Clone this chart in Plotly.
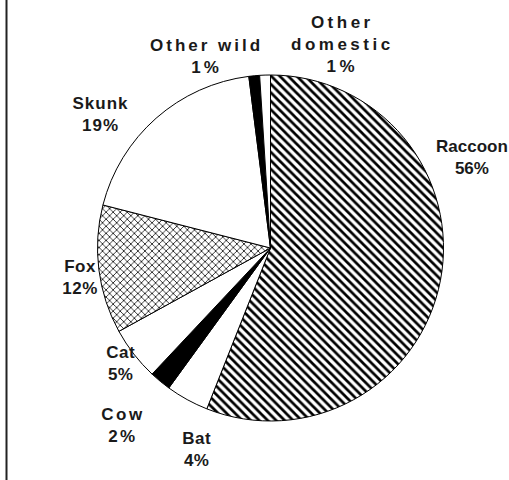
import json
import plotly.graph_objects as go

# Rabies cases by animal type (share of total, %)
animals = ["Raccoon", "Bat", "Cow", "Cat", "Fox", "Skunk", "Other wild", "Other domestic"]
shares = [56, 4, 2, 5, 12, 19, 1, 1]

# Display names for the outside labels
label_text = ["Raccoon", "Bat", "Cow", "Cat", "Fox", "Skunk", "Other wild", "Other<br>domestic"]

# Slice fills
fill_colors = ["white", "white", "black", "white", "white", "white", "black", "white"]
pattern_shapes = ["\\", "", "", "", "x", "", "", ""]

# Label anchor positions in pixels (x, y from top) and letter spacing (px)
label_px = [(472, 158), (197, 449), (123, 425), (121, 363), (80, 277),
            (101, 114), (206, 56), (342, 44)]
label_spacing = [0, 0.5, 2.5, 0.5, 0.5, 1, 3, 3.5]

W, H = 509, 480

fig = go.Figure(go.Pie(
    labels=animals,
    values=shares,
    sort=False,
    direction="clockwise",
    rotation=0,
    textinfo="none",
    hoverinfo="label+percent",
    marker=dict(
        colors=fill_colors,
        line=dict(color="black", width=1),
        pattern=dict(
            shape=pattern_shapes,
            fgcolor="black",
            bgcolor=fill_colors,
            size=[6, 6, 6, 6, 5, 6, 6, 6],
            solidity=[0.45, 0.3, 0.3, 0.3, 0.28, 0.3, 0.3, 0.3],
        ),
    ),
    domain=dict(x=[97.5 / W, 443.5 / W], y=[(H - 421) / H, (H - 75) / H]),
    showlegend=False,
))

total = sum(shares)
annotations = []
for name, val, (px, py) in zip(label_text, shares, label_px):
    annotations.append(dict(
        x=px / W, y=1 - py / H, xref="paper", yref="paper",
        text=f"<b>{name}<br>{round(100 * val / total)}%</b>",
        showarrow=False, xanchor="center", yanchor="middle",
        font=dict(family="Liberation Sans, Arial, sans-serif", size=17, color="#1a1a1a"),
        align="center",
    ))

fig.update_layout(
    width=W, height=H,
    margin=dict(l=0, r=0, t=0, b=0),
    paper_bgcolor="white",
    plot_bgcolor="white",
    annotations=annotations,
    shapes=[dict(type="line", xref="paper", yref="paper",
                 x0=6.5 / W, x1=6.5 / W, y0=0, y1=1,
                 line=dict(color="#222", width=2))],
)

# Widen the letter spacing of the labels after the plot is drawn
spacing_js = """
var sp = %s;
document.querySelectorAll('g.annotation').forEach(function (g) {
  var i = +g.getAttribute('data-index');
  var t = g.querySelector('text');
  if (t && sp[i]) { t.style.letterSpacing = sp[i] + 'px'; }
});
""" % json.dumps(label_spacing)

fig.write_html("out.html", post_script=spacing_js)
